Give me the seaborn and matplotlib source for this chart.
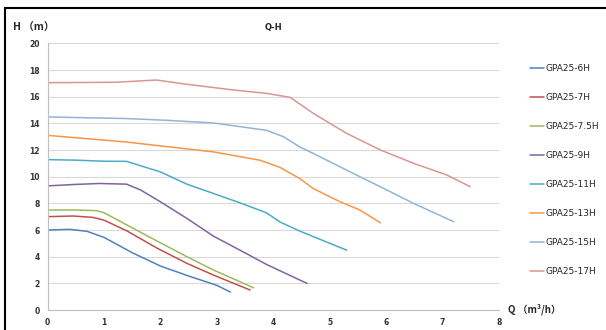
import matplotlib
matplotlib.use("Agg")
import matplotlib.pyplot as plt
import pandas as pd
import seaborn as sns
from matplotlib.patches import Rectangle

# curvas Q-H (Q em m3/h, H em m)
modelos = ['GPA25-6H', 'GPA25-7H', 'GPA25-7.5H', 'GPA25-9H',
           'GPA25-11H', 'GPA25-13H', 'GPA25-15H', 'GPA25-17H']
cores = ['#4F81BD', '#C0504D', '#9BBB59', '#8064A2',
         '#4BACC6', '#F79646', '#95B3D7', '#D99694']

q_6h = [0, 0.4, 0.7, 1.0, 1.5, 2.0, 2.5, 3.0, 3.24]
h_6h = [6.0, 6.05, 5.9, 5.45, 4.3, 3.3, 2.55, 1.85, 1.35]

q_7h = [0, 0.45, 0.8, 1.0, 1.4, 1.95, 2.47, 2.94, 3.59]
h_7h = [7.0, 7.05, 6.95, 6.74, 5.95, 4.62, 3.5, 2.62, 1.5]

q_75h = [0, 0.5, 0.87, 1.0, 1.52, 2.0, 2.47, 2.94, 3.65]
h_75h = [7.5, 7.5, 7.45, 7.3, 6.12, 5.04, 4.0, 3.0, 1.67]

q_9h = [0, 0.5, 0.92, 1.4, 1.65, 2.0, 2.47, 2.94, 3.41, 3.88, 4.47, 4.6]
h_9h = [9.31, 9.42, 9.49, 9.44, 9.0, 8.12, 6.87, 5.54, 4.49, 3.42, 2.25, 2.0]

q_11h = [0, 0.5, 1.0, 1.4, 2.0, 2.47, 2.94, 3.41, 3.88, 4.12, 4.47, 5.3]
h_11h = [11.28, 11.24, 11.16, 11.15, 10.36, 9.44, 8.74, 8.04, 7.29, 6.6, 5.92, 4.49]

q_13h = [0, 1.4, 2.0, 2.94, 3.76, 4.12, 4.47, 4.71, 5.19, 5.54, 5.9]
h_13h = [13.1, 12.6, 12.31, 11.86, 11.24, 10.7, 9.86, 9.11, 8.11, 7.49, 6.54]

q_15h = [0, 1.4, 2.1, 2.94, 3.88, 4.18, 4.47, 4.71, 5.3, 5.9, 6.49, 7.2]
h_15h = [14.48, 14.36, 14.23, 14.03, 13.48, 13.0, 12.23, 11.74, 10.49, 9.24, 7.99, 6.62]

q_17h = [0, 1.2, 1.93, 2.47, 3.3, 3.88, 4.3, 4.71, 5.3, 5.9, 6.49, 7.08, 7.49]
h_17h = [17.05, 17.08, 17.25, 16.93, 16.5, 16.25, 15.95, 14.75, 13.25, 12.0, 11.0, 10.12, 9.25]

curvas_q = [q_6h, q_7h, q_75h, q_9h, q_11h, q_13h, q_15h, q_17h]
curvas_h = [h_6h, h_7h, h_75h, h_9h, h_11h, h_13h, h_15h, h_17h]

partes = []
for nome, q, h in zip(modelos, curvas_q, curvas_h):
    partes.append(pd.DataFrame({'Q': q, 'H': h, 'modelo': nome}))
df = pd.concat(partes, ignore_index=True)

sns.set_style('white')
plt.rcParams['font.family'] = ['DejaVu Sans']

fig = plt.figure(figsize=(6.06, 3.30), dpi=100)
ax = fig.add_axes([0.0784, 0.0606, 0.745, 0.808])

sns.lineplot(data=df, x='Q', y='H', hue='modelo', hue_order=modelos,
             palette=cores, sort=False, estimator=None, linewidth=1.1,
             ax=ax, legend=False)

ax.set_xlim(0, 8)
ax.set_ylim(0, 20)
ax.set_xticks(range(0, 9))
ax.set_yticks(range(0, 21, 2))
ax.set_xlabel('')
ax.set_ylabel('')
ax.grid(axis='y', color='#d9d9d9', linewidth=0.8)
ax.grid(axis='x', visible=False)
for lado in ['top', 'right']:
    ax.spines[lado].set_visible(False)
ax.spines['left'].set_color('#bfbfbf')
ax.spines['bottom'].set_color('#bfbfbf')
ax.tick_params(axis='both', labelsize=5.5, colors='#bfbfbf', labelcolor='#333333',
               length=2.5, width=0.8, pad=3)
for t in ax.get_xticklabels() + ax.get_yticklabels():
    t.set_fontweight('bold')

fig.text(0.451, 0.918, 'Q-H', fontsize=6, fontweight='bold', ha='center', va='center')
fig.text(0.022, 0.915, 'H （m）', fontsize=7.5, fontweight='bold', ha='left', va='center',
         family=['Noto Sans CJK SC', 'DejaVu Sans'])
fig.text(0.838, 0.062, 'Q （m³/h）', fontsize=7, fontweight='bold', ha='left', va='center',
         family=['Noto Sans CJK SC', 'DejaVu Sans'])

# legenda à direita
handles = [plt.Line2D([], [], color=c, linewidth=1.1) for c in cores]
fig.legend(handles, modelos, loc='upper left', bbox_to_anchor=(0.868, 0.818),
           frameon=False, fontsize=6.5, handlelength=1.6, handletextpad=0.15,
           labelspacing=2.22, borderaxespad=0)

fig.patches.append(Rectangle((0.009, -0.05), 1.1, 1.025, transform=fig.transFigure,
                             fill=False, edgecolor='black', linewidth=1.5))

fig.savefig('out.png', dpi=100)
